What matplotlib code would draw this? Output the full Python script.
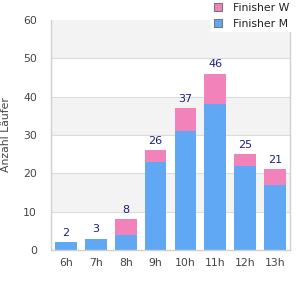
import matplotlib
matplotlib.use("Agg")
import matplotlib.pyplot as plt
from matplotlib.patches import Patch
import numpy as np

# data
hours = ["6h", "7h", "8h", "9h", "10h", "11h", "12h", "13h"]
finisher_m = [2, 3, 4, 23, 31, 38, 22, 17]
finisher_w = [0, 0, 4, 3, 6, 8, 3, 4]

col_m = "#60a8f4"
col_w = "#f283ba"
grid_col = "#dcdcdc"
txt_col = "#444444"

fig = plt.figure(figsize=(3, 3), dpi=100)
ax = fig.add_axes([51/300, 50/300, 239/300, 230/300])

x = np.arange(len(hours))
m = np.array(finisher_m)
w = np.array(finisher_w)
tot = m + w

# alternating bands
for lo in range(10, 60, 20):
    ax.axhspan(lo, lo + 10, color="#f3f3f3", zorder=0, lw=0)
for y in range(10, 60, 10):
    ax.axhline(y, color=grid_col, lw=0.8, zorder=1)

ax.bar(x, m, width=0.73, color=col_m, zorder=2)
ax.bar(x, w, width=0.73, bottom=m, color=col_w, zorder=2)

for xi, t in zip(x, tot):
    ax.text(xi, t + 1.2, str(t), ha="center", va="bottom",
            color="#1c1c8c", fontsize=8)

ax.set_xlim(-0.5, len(hours) - 0.5)
ax.set_ylim(0, 60)
ax.set_yticks(range(0, 61, 10))
ax.set_xticks(x)
ax.set_xticklabels(hours)
ax.tick_params(length=0, labelsize=7.8, colors=txt_col, pad=6)
ax.tick_params(axis="y", pad=10)
ax.set_ylabel("Anzahl Läufer", fontsize=7.8, color=txt_col, labelpad=9)

for side in ["left", "right", "bottom"]:
    ax.spines[side].set_color("#d0d0d0")
    ax.spines[side].set_linewidth(1.0)
ax.spines["top"].set_visible(False)

handles = [Patch(facecolor=col_w, edgecolor="#777777", lw=0.8),
           Patch(facecolor=col_m, edgecolor="#777777", lw=0.8)]
leg = fig.legend(handles, ["Finisher W", "Finisher M"], loc="upper right",
                 bbox_to_anchor=(292/300, 1.0), fontsize=7.8, frameon=True,
                 fancybox=False, handlelength=0.75, handleheight=0.75,
                 handletextpad=1.0, borderpad=0.25, labelspacing=0.55,
                 borderaxespad=0)
leg.get_frame().set_edgecolor("white")
leg.get_frame().set_facecolor("white")
leg.get_frame().set_alpha(1)
for t in leg.get_texts():
    t.set_color("#222222")

fig.savefig("out.png", dpi=100)
